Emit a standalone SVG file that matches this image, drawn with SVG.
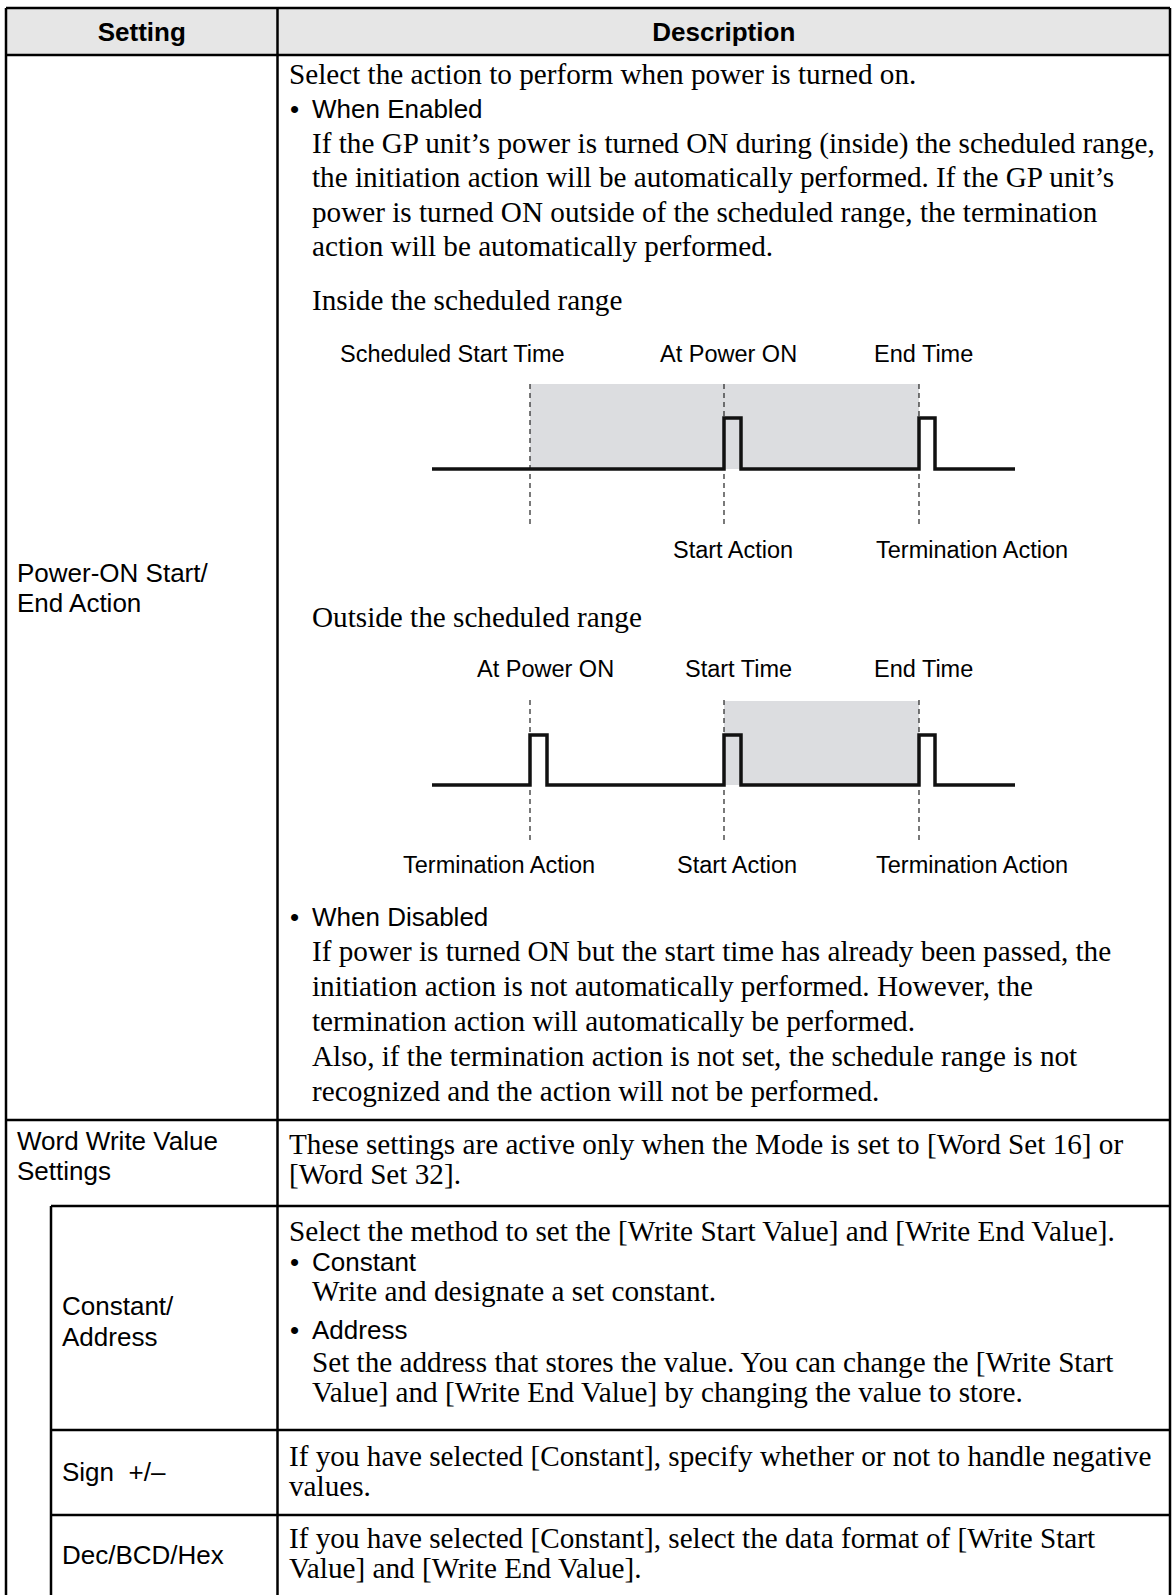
<svg xmlns="http://www.w3.org/2000/svg" width="1174" height="1595" viewBox="0 0 1174 1595">
<style>
.b{font-family:"Liberation Serif","Times New Roman",serif;font-size:29.2px;fill:#000}
.s{font-family:"Liberation Sans",Arial,sans-serif;font-size:26px;fill:#000}
.h{font-family:"Liberation Sans",Arial,sans-serif;font-size:26px;font-weight:bold;fill:#000}
.d{font-family:"Liberation Sans",Arial,sans-serif;font-size:23.5px;fill:#000}
.g{stroke:#000;stroke-width:2.5;fill:none}
.dash{stroke:#222;stroke-width:1.2;stroke-dasharray:5 4;fill:none}
.wave{fill:none;stroke:#111;stroke-width:3.5;stroke-linejoin:miter}
.shade{fill:#dcdde0}
</style>
<rect x="0" y="0" width="1174" height="1595" fill="#fff"/>
<rect x="6" y="8" width="1164" height="47" fill="#e6e6e6"/>

<g id="header">
<text class="h" x="141.75" y="41" text-anchor="middle">Setting</text>
<text class="h" x="723.75" y="41" text-anchor="middle">Description</text>
</g>

<g id="row-power-on">
<text class="s" x="17" y="582">Power-ON Start/</text>
<text class="s" x="17" y="612">End Action</text>
<text class="b" x="289" y="84">Select the action to perform when power is turned on.</text>
<text class="s" x="290" y="118">•</text><text class="s" x="312" y="118">When Enabled</text>
<text class="b" x="312" y="152.5">If the GP unit’s power is turned ON during (inside) the scheduled range,</text>
<text class="b" x="312" y="187">the initiation action will be automatically performed. If the GP unit’s</text>
<text class="b" x="312" y="221.5">power is turned ON outside of the scheduled range, the termination</text>
<text class="b" x="312" y="256">action will be automatically performed.</text>
<text class="b" x="312" y="310">Inside the scheduled range</text>

<g id="diagram-inside">
<rect class="shade" x="530" y="384" width="389" height="85"/>
<line class="dash" x1="530" y1="384" x2="530" y2="527"/>
<line class="dash" x1="724" y1="384" x2="724" y2="527"/>
<line class="dash" x1="919" y1="384" x2="919" y2="527"/>
<path class="wave" d="M432,469 H724 V418 H741 V469 H919 V418 H935 V469 H1015"/>
<text class="d" x="340" y="362">Scheduled Start Time</text>
<text class="d" x="660" y="362">At Power ON</text>
<text class="d" x="874" y="362">End Time</text>
<text class="d" x="673" y="558">Start Action</text>
<text class="d" x="876" y="558">Termination Action</text>
</g>

<text class="b" x="312" y="627">Outside the scheduled range</text>

<g id="diagram-outside">
<rect class="shade" x="724" y="701" width="195" height="84"/>
<line class="dash" x1="530" y1="700" x2="530" y2="843"/>
<line class="dash" x1="724" y1="700" x2="724" y2="843"/>
<line class="dash" x1="919" y1="700" x2="919" y2="843"/>
<path class="wave" d="M432,785 H530 V735 H547 V785 H724 V735 H741 V785 H919 V735 H935 V785 H1015"/>
<text class="d" x="477" y="677">At Power ON</text>
<text class="d" x="685" y="677">Start Time</text>
<text class="d" x="874" y="677">End Time</text>
<text class="d" x="403" y="873">Termination Action</text>
<text class="d" x="677" y="873">Start Action</text>
<text class="d" x="876" y="873">Termination Action</text>
</g>

<text class="s" x="290" y="926">•</text><text class="s" x="312" y="926">When Disabled</text>
<text class="b" x="312" y="961">If power is turned ON but the start time has already been passed, the</text>
<text class="b" x="312" y="996">initiation action is not automatically performed. However, the</text>
<text class="b" x="312" y="1031">termination action will automatically be performed.</text>
<text class="b" x="312" y="1066">Also, if the termination action is not set, the schedule range is not</text>
<text class="b" x="312" y="1101">recognized and the action will not be performed.</text>
</g>

<g id="row-word-write">
<text class="s" x="17" y="1150">Word Write Value</text>
<text class="s" x="17" y="1180">Settings</text>
<text class="b" x="289" y="1154">These settings are active only when the Mode is set to [Word Set 16] or</text>
<text class="b" x="289" y="1184">[Word Set 32].</text>
</g>

<g id="row-constant-address">
<text class="s" x="62" y="1315">Constant/</text>
<text class="s" x="62" y="1346">Address</text>
<text class="b" x="289" y="1241">Select the method to set the [Write Start Value] and [Write End Value].</text>
<text class="s" x="290" y="1271">•</text><text class="s" x="312" y="1271">Constant</text>
<text class="b" x="312" y="1301">Write and designate a set constant.</text>
<text class="s" x="290" y="1339">•</text><text class="s" x="312" y="1339">Address</text>
<text class="b" x="312" y="1372">Set the address that stores the value. You can change the [Write Start</text>
<text class="b" x="312" y="1402">Value] and [Write End Value] by changing the value to store.</text>
</g>

<g id="row-sign">
<text class="s" x="62" y="1481">Sign&#160; +/–</text>
<text class="b" x="289" y="1466">If you have selected [Constant], specify whether or not to handle negative</text>
<text class="b" x="289" y="1496">values.</text>
</g>

<g id="row-dec-bcd-hex">
<text class="s" x="62" y="1564">Dec/BCD/Hex</text>
<text class="b" x="289" y="1548">If you have selected [Constant], select the data format of [Write Start</text>
<text class="b" x="289" y="1578">Value] and [Write End Value].</text>
</g>

<g id="connectors">
<line class="g" x1="6" y1="8" x2="1170" y2="8"/>
<line class="g" x1="6" y1="8" x2="6" y2="1595"/>
<line class="g" x1="1170" y1="8" x2="1170" y2="1595"/>
<line class="g" x1="277.5" y1="8" x2="277.5" y2="1595"/>
<line class="g" x1="6" y1="55" x2="1170" y2="55"/>
<line class="g" x1="6" y1="1120" x2="1170" y2="1120"/>
<line class="g" x1="51" y1="1206" x2="1170" y2="1206"/>
<line class="g" x1="51" y1="1206" x2="51" y2="1595"/>
<line class="g" x1="51" y1="1430" x2="1170" y2="1430"/>
<line class="g" x1="51" y1="1515" x2="1170" y2="1515"/>
</g>
</svg>
